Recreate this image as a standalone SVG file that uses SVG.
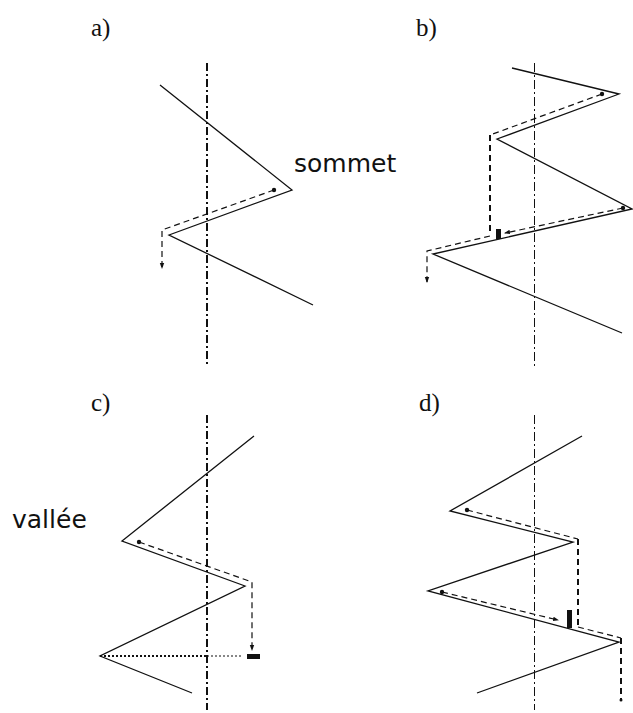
<svg xmlns="http://www.w3.org/2000/svg" width="633" height="713" viewBox="0 0 633 713">
<style>
.lbl{font-family:"Liberation Serif",serif;font-size:25px;fill:#111}
.word{font-family:"DejaVu Sans",sans-serif;font-size:25px;fill:#111}
.zig{fill:none;stroke:#111;stroke-width:1.3;stroke-linejoin:miter}
.axT{stroke:#111;stroke-width:2;stroke-dasharray:8 3 2 3;fill:none}
.axt{stroke:#111;stroke-width:1;stroke-dasharray:9 3 2 3;fill:none}
.dsh{fill:none;stroke:#111;stroke-width:1.2;stroke-dasharray:6 4}
.dshT{fill:none;stroke:#111;stroke-width:2;stroke-dasharray:6 4}
.blk{fill:#111}
</style>
<defs>
<marker id="ah" viewBox="0 0 6 6" refX="5" refY="3" markerWidth="6" markerHeight="6" markerUnits="userSpaceOnUse" orient="auto">
<path d="M0,0.8 L6,3 L0,5.2 z" fill="#111"/>
</marker>
</defs>
<text class="lbl" x="91" y="36">a)</text>
<text class="lbl" x="416" y="36">b)</text>
<text class="lbl" x="91" y="411">c)</text>
<text class="lbl" x="419" y="411">d)</text>
<text class="word" x="294" y="172">sommet</text>
<text class="word" x="12" y="528">vallée</text>

<g id="panel-a">
<line class="axT" x1="207" y1="63" x2="207" y2="367"/>
<polyline class="zig" points="160,85 292,190 169,235 313,305"/>
<polyline class="dsh" points="274,190 162,230 162,268" marker-end="url(#ah)"/>
<circle class="blk" cx="274" cy="190" r="2.2"/>
</g>

<g id="panel-b">
<line class="axt" x1="534.5" y1="63" x2="534.5" y2="367"/>
<polyline class="zig" points="512,68 619,94 497,139 632,209 433,254 622,333"/>
<polyline class="dsh" points="602,94 490,135"/>
<line class="dshT" x1="490" y1="135" x2="490" y2="234"/>
<polyline class="dsh" points="490,236 427,251 427,282" marker-end="url(#ah)"/>
<circle class="blk" cx="602" cy="94" r="2.2"/>
<line class="dsh" x1="623" y1="208" x2="505" y2="233" marker-end="url(#ah)"/>
<circle class="blk" cx="623" cy="208" r="2.2"/>
<rect class="blk" x="496" y="229" width="5" height="10"/>
</g>

<g id="panel-c">
<line class="axT" x1="207" y1="415" x2="207" y2="710"/>
<polyline class="zig" points="254,436 122,541 245,586 100,656 192,693"/>
<polyline class="dsh" points="139,542 252,582 252,650" marker-end="url(#ah)"/>
<circle class="blk" cx="139" cy="542" r="2.2"/>
<line x1="100" y1="656" x2="207" y2="656" stroke="#111" stroke-width="2" stroke-dasharray="2 2"/>
<line x1="207" y1="656" x2="242" y2="656" stroke="#111" stroke-width="1.2" stroke-dasharray="2 2"/>
<rect class="blk" x="247" y="654" width="13" height="5"/>
</g>

<g id="panel-d">
<line class="axt" x1="534.5" y1="415" x2="534.5" y2="710"/>
<polyline class="zig" points="582,436 450,511 573,542 428,591 619,642 477,693"/>
<polyline class="dsh" points="467,510 578,539"/>
<line class="dshT" x1="578" y1="539" x2="578" y2="627"/>
<polyline class="dsh" points="578,627 621,638"/>
<line class="dshT" x1="621" y1="638" x2="621" y2="700"/>
<circle class="blk" cx="621" cy="700" r="1.5"/>
<circle class="blk" cx="467" cy="510" r="2.2"/>
<line class="dsh" x1="442" y1="592" x2="558" y2="620" marker-end="url(#ah)"/>
<circle class="blk" cx="442" cy="592" r="2.2"/>
<rect class="blk" x="567" y="610" width="5" height="18"/>
</g>
</svg>
